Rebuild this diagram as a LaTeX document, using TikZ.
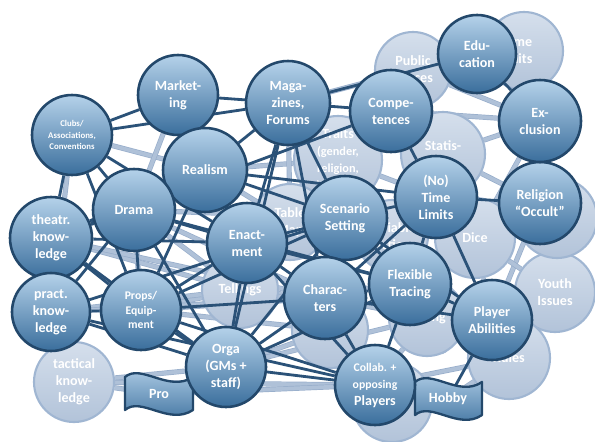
\documentclass[tikz,border=0pt]{standalone}
\usepackage{fontspec}
\setmainfont{Carlito}
\definecolor{dborder}{HTML}{23486B}
\definecolor{ctop}{HTML}{B5D2EA}
\definecolor{cbot}{HTML}{3A6E9C}
\definecolor{ltop}{HTML}{D5DFEC}
\definecolor{lbot}{HTML}{B2C3D9}
\definecolor{lborder}{HTML}{A0B6D2}
\definecolor{dline}{HTML}{2B5278}
\definecolor{lline}{HTML}{AFC1D8}
\definecolor{lline2}{HTML}{98AECB}
\pgfdeclarelayer{lightedges}
\pgfdeclarelayer{lightnodes}
\pgfdeclarelayer{darkedges}
\pgfdeclarelayer{banners}
\pgfsetlayers{lightedges,lightnodes,darkedges,banners,main}
\begin{document}
\begin{tikzpicture}[x=0.03cm,y=-0.03cm,
  rad/.style={minimum size={#1*0.06cm}},
  dnode/.style={circle,draw=dborder,line width=2.2pt,top color=ctop,bottom color=cbot,
    text=white,font=\bfseries\fontsize{12}{14.5}\selectfont,align=center,inner sep=0pt},
  lnode/.style={circle,draw=lborder,line width=1.8pt,top color=ltop,bottom color=lbot,
    text=white,font=\bfseries\fontsize{12}{14.5}\selectfont,align=center,inner sep=0pt},
  ltext/.style={text=white,font=\bfseries\fontsize{12}{14.5}\selectfont,align=center,inner sep=0pt},
  dedge/.style={draw=dline,line width=2.4pt},
  ledge/.style={draw=lline,line width=3.2pt,preaction={draw=lline2,line width=4.4pt}},
  banner/.style={draw=dborder,line width=2pt,top color=ctop,bottom color=cbot,line join=round},
  bantext/.style={text=white,font=\bfseries\fontsize{12}{14.5}\selectfont,inner sep=1pt}]
\useasboundingbox (0,0) rectangle (595,441);

% ---------- foreground nodes ----------
\node[dnode,rad=40,font=\bfseries\fontsize{7.5}{9.5}\selectfont] (clubs) at (72,135) {Clubs/\\Associations,\\Conventions};
\node[dnode,rad=40] (market) at (178,95) {Market-\\ing};
\node[dnode,rad=42] (maga) at (288,103) {Maga-\\zines,\\Forums};
\node[dnode,rad=42] (realism) at (205,170) {Realism};
\node[dnode,rad=41] (drama) at (134,210) {Drama};
\node[dnode,rad=41] (theatr) at (51,238) {theatr.\\know-\\ledge};
\node[dnode,rad=39] (pract) at (51,312) {pract.\\know-\\ledge};
\node[dnode,rad=40,font=\bfseries\fontsize{10}{12.5}\selectfont] (props) at (141,310) {Props/\\Equip-\\ment};
\node[dnode,rad=40] (enact) at (247,243) {Enact-\\ment};
\node[dnode,rad=40] (orga) at (226,367) {Orga\\(GMs +\\staff)};
\node[dnode,rad=42] (scen) at (345,218) {Scenario\\Setting};
\node[dnode,rad=41] (chars) at (325,298) {Charac-\\ters};
\node[dnode,rad=41] (flex) at (410,284) {Flexible\\Tracing};
\node[dnode,rad=40] (player) at (492,320) {Player\\Abilities};
\node[dnode,rad=40] (collab) at (375,385) {{\fontsize{10}{12.5}\selectfont Collab. +}\\{\fontsize{10}{12.5}\selectfont opposing}\\Players};
\node[dnode,rad=41] (time) at (436,197) {(No)\\Time\\Limits};
\node[dnode,rad=41] (relig) at (540,203) {Religion\\``Occult''};
\node[dnode,rad=41] (excl) at (540,121) {Ex-\\clusion};
\node[dnode,rad=39] (educ) at (477,54) {Edu-\\cation};
\node[dnode,rad=41] (compet) at (391,111) {Compe-\\tences};

% ---------- background nodes ----------
\begin{pgfonlayer}{lightnodes}
\node[lnode,rad=38] (public) at (413,70) {Public\\Spaces};
\node[lnode,rad=39] (game) at (524,51) {};
\node[ltext] (gametext) at (515,50) {Game\\Limits};
\node[lnode,rad=44] (traits) at (338,160) {Traits\\{\fontsize{10.5}{12.8}\selectfont (gender,}\\{\fontsize{10.5}{12.8}\selectfont religion,}\\{\fontsize{10.5}{12.8}\selectfont health..)}};
\node[lnode,rad=42] (stats) at (443,154) {Statis-\\tics};
\node[lnode,rad=38] (table) at (290,222) {Table\\Map};
\node[lnode,rad=36] (varia) at (392,236) {Variable\\Action};
\node[lnode,rad=40] (dice) at (475,238) {Dice};
\node[lnode,rad=40] (youth) at (555,292) {Youth\\Issues};
\node[lnode,rad=41] (rules) at (509,358) {Rules};
\node[lnode,rad=38] (pacing) at (427,318) {Pacing};
\node[lnode,rad=38] (stories) at (330,330) {Stories};
\node[lnode,rad=38] (tellings) at (240,290) {Tellings};
\node[lnode,rad=40] (collabbg) at (392,402) {};
\node[lnode,rad=40] (religbg) at (557,218) {};
\node[lnode,rad=40] (tactical) at (74,382) {tactical\\know-\\ledge};
\end{pgfonlayer}

% ---------- banners ----------
\begin{pgfonlayer}{banners}
\draw[banner] (125,377) .. controls (141,363) and (169,393) .. (193,377) -- (193,410) .. controls (169,426) and (141,396) .. (125,410) -- cycle;
\node[bantext] (pro) at (159,394) {Pro};
\draw[banner] (415,382) .. controls (431,368) and (459,398) .. (482,382) -- (482,415) .. controls (459,431) and (431,401) .. (415,415) -- cycle;
\node[bantext] (hobby) at (448,399) {Hobby};
\end{pgfonlayer}

% ---------- light connectors ----------
\begin{pgfonlayer}{lightedges}
\foreach \a/\b in {clubs/realism,market/realism,market/drama,clubs/pract,
  maga/traits,maga/public,compet/public,public/educ,public/excl,compet/excl,game/excl,educ/game,
  traits/compet,traits/scen,traits/time,traits/enact,traits/realism,
  stats/compet,stats/time,stats/excl,stats/relig,excl/dice,relig/player,relig/youth,relig/dice,
  dice/time,dice/player,dice/flex,youth/player,youth/dice,youth/rules,
  rules/player,rules/hobby,rules/collab,pacing/flex,pacing/player,pacing/collab,pacing/chars,
  stories/chars,stories/orga,stories/collab,stories/props,
  tellings/enact,tellings/props,tellings/orga,tellings/drama,tellings/chars,
  table/scen,table/enact,table/maga,table/realism,
  varia/scen,varia/flex,varia/time,
  tactical/pract,tactical/pro,tactical/orga,tactical/collab,
  pro/orga,pro/collab,drama/props,theatr/tellings,pract/tellings,props/chars,
  orga/pacing,drama/chars,drama/scen,props/flex,pract/chars,theatr/chars,collab/collabbg,religbg/youth,religbg/excl}
  \draw[ledge] (\a) -- (\b);
\end{pgfonlayer}

% ---------- dark connectors ----------
\begin{pgfonlayer}{darkedges}
\foreach \a/\b in {clubs/market,clubs/maga,market/maga,clubs/theatr,clubs/drama,clubs/props,clubs/enact,
  maga/educ,maga/compet,maga/enact,maga/chars,maga/orga,maga/scen,maga/realism,
  realism/time,realism/enact,realism/props,realism/scen,realism/theatr,
  compet/time,compet/theatr,educ/excl,
  time/relig,time/player,time/flex,time/scen,time/chars,
  scen/enact,scen/flex,scen/chars,scen/orga,scen/props,scen/pract,scen/player,
  drama/theatr,drama/pract,drama/props,drama/enact,drama/flex,drama/orga,
  theatr/props,theatr/pract,theatr/enact,theatr/orga,
  pract/props,pract/orga,pract/collab,
  props/enact,props/orga,props/chars,props/collab,
  enact/orga,enact/chars,enact/collab,enact/flex,
  orga/chars,orga/collab,orga/flex,orga/pro,
  chars/flex,chars/collab,chars/player,
  flex/player,flex/collab,
  player/hobby,collab/hobby}
  \draw[dedge] (\a) -- (\b);
\end{pgfonlayer}
\end{tikzpicture}
\end{document}
